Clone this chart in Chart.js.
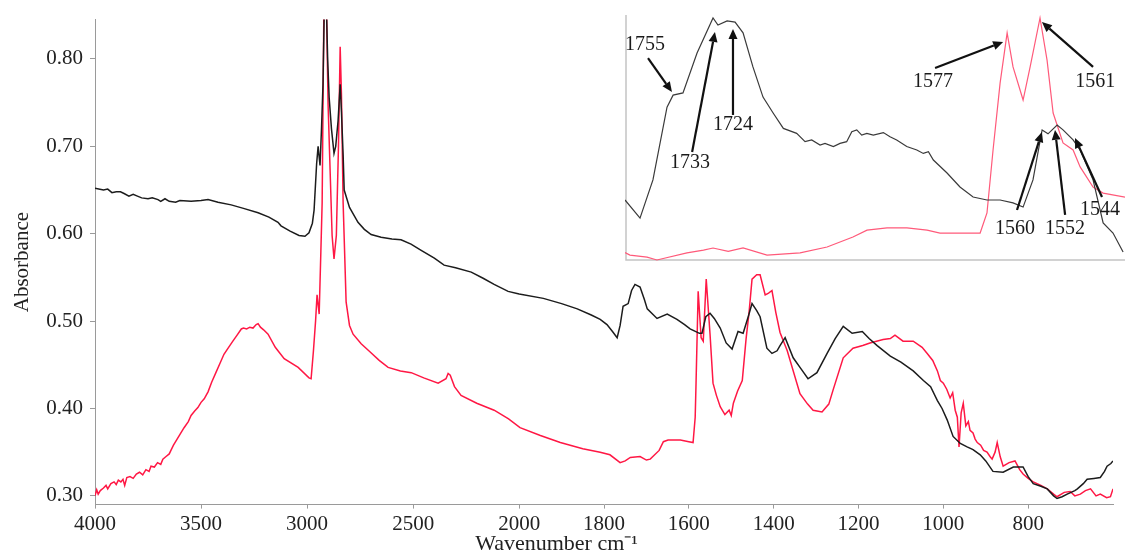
<!DOCTYPE html>
<html><head><meta charset="utf-8">
<script src="https://cdn.jsdelivr.net/npm/chart.js@4.4.1/dist/chart.umd.min.js"></script>
<style>
html,body{margin:0;padding:0;background:#fff;}
#wrap{position:relative;width:1125px;height:557px;overflow:hidden;}
#main{position:absolute;left:0;top:0;}
#inset{position:absolute;left:625px;top:0;}
</style></head><body>
<div id="wrap"><canvas id="main" width="1125" height="557"></canvas><canvas id="inset" width="500" height="270"></canvas></div>
<script>
// ---------- main spectrum data (wavenumber cm-1, absorbance) ----------
const blackWn = [4000,3960,3940,3920,3900,3880,3863,3840,3820,3800,3780,3750,3730,3703,3690,3670,3650,3620,3600,3547,3500,3467,3420,3358,3300,3231,3180,3137,3123,3080,3038,3010,2991,2975,2967,2955,2948,2939,2932,2925,2918,2910,2903,2896,2885,2873,2865,2854,2844,2838,2830,2825,2800,2760,2730,2698,2651,2600,2557,2510,2462,2400,2354,2300,2226,2170,2118,2052,2000,1943,1900,1863,1830,1809,1793,1780,1769,1762,1755,1743,1735,1727,1715,1705,1698,1675,1651,1628,1610,1597,1575,1569,1560,1550,1540,1526,1512,1498,1484,1472,1460,1451,1440,1432,1416,1404,1392,1385,1373,1354,1335,1319,1298,1274,1255,1236,1215,1191,1175,1156,1125,1100,1071,1047,1030,1014,1003,991,977,960,944,930,913,900,883,859,835,812,800,788,770,755,740,732,720,708,690,684,670,661,645,630,620,614,605,600];
const blackAbs = [0.652,0.650,0.651,0.647,0.648,0.648,0.646,0.643,0.645,0.643,0.641,0.640,0.641,0.639,0.637,0.640,0.637,0.636,0.638,0.637,0.638,0.639,0.636,0.633,0.629,0.624,0.619,0.613,0.609,0.603,0.598,0.597,0.601,0.612,0.627,0.680,0.700,0.678,0.720,0.771,0.870,0.870,0.800,0.756,0.720,0.692,0.700,0.729,0.771,0.740,0.690,0.650,0.630,0.613,0.605,0.599,0.596,0.594,0.593,0.588,0.581,0.572,0.564,0.561,0.556,0.549,0.542,0.534,0.531,0.526,0.520,0.514,0.507,0.502,0.496,0.488,0.481,0.495,0.517,0.520,0.535,0.542,0.539,0.525,0.514,0.503,0.508,0.502,0.496,0.491,0.486,0.486,0.505,0.509,0.503,0.492,0.475,0.468,0.488,0.486,0.505,0.520,0.512,0.505,0.469,0.463,0.466,0.472,0.481,0.458,0.445,0.434,0.441,0.463,0.480,0.494,0.486,0.488,0.480,0.472,0.460,0.453,0.443,0.432,0.425,0.409,0.400,0.387,0.368,0.360,0.356,0.353,0.347,0.340,0.328,0.327,0.333,0.333,0.322,0.314,0.311,0.308,0.300,0.297,0.299,0.302,0.306,0.308,0.314,0.319,0.320,0.321,0.328,0.334,0.337,0.340];

const redWn = [4000,3992,3985,3975,3960,3948,3940,3925,3910,3900,3890,3878,3868,3860,3850,3835,3820,3805,3790,3775,3760,3745,3736,3720,3705,3690,3680,3665,3650,3642,3630,3615,3600,3580,3560,3547,3530,3515,3500,3485,3467,3450,3430,3410,3392,3370,3350,3330,3310,3300,3285,3270,3255,3240,3231,3220,3205,3184,3150,3108,3042,2991,2981,2970,2960,2953,2943,2935,2929,2920,2910,2901,2882,2873,2862,2852,2844,2838,2830,2816,2800,2783,2745,2700,2660,2618,2560,2509,2450,2382,2345,2335,2325,2305,2274,2200,2118,2050,1998,1950,1903,1850,1809,1786,1762,1750,1738,1715,1700,1691,1670,1660,1649,1620,1600,1590,1585,1583,1578,1571,1566,1559,1550,1543,1535,1526,1515,1505,1500,1495,1485,1474,1465,1458,1451,1440,1432,1420,1412,1404,1395,1385,1368,1338,1320,1307,1286,1270,1260,1236,1213,1190,1173,1142,1125,1114,1095,1071,1050,1038,1025,1014,1007,1000,992,984,978,972,967,963,958,953,947,941,937,930,925,920,912,905,897,890,885,878,873,866,859,845,831,820,812,800,788,770,755,740,732,715,701,690,677,665,653,640,630,615,606,600];
const redAbs = [0.300,0.307,0.302,0.306,0.309,0.312,0.308,0.314,0.316,0.313,0.318,0.316,0.319,0.312,0.321,0.322,0.320,0.325,0.327,0.324,0.330,0.328,0.334,0.333,0.338,0.336,0.342,0.345,0.348,0.352,0.358,0.364,0.370,0.378,0.385,0.392,0.397,0.401,0.407,0.411,0.419,0.430,0.441,0.452,0.462,0.470,0.477,0.484,0.491,0.492,0.491,0.493,0.492,0.496,0.497,0.493,0.490,0.485,0.470,0.457,0.447,0.435,0.434,0.466,0.500,0.530,0.508,0.580,0.635,0.880,0.880,0.748,0.598,0.571,0.598,0.700,0.814,0.760,0.635,0.522,0.495,0.485,0.474,0.464,0.455,0.447,0.443,0.441,0.435,0.429,0.434,0.440,0.438,0.425,0.415,0.406,0.398,0.388,0.378,0.369,0.361,0.354,0.350,0.347,0.338,0.340,0.344,0.345,0.341,0.342,0.352,0.362,0.364,0.364,0.362,0.361,0.390,0.429,0.534,0.481,0.477,0.548,0.485,0.429,0.415,0.402,0.393,0.398,0.392,0.406,0.420,0.432,0.480,0.510,0.548,0.553,0.553,0.530,0.532,0.535,0.510,0.487,0.466,0.417,0.405,0.398,0.396,0.405,0.421,0.458,0.469,0.472,0.475,0.479,0.480,0.484,0.477,0.477,0.470,0.463,0.455,0.443,0.432,0.429,0.422,0.412,0.418,0.398,0.390,0.356,0.395,0.406,0.380,0.385,0.375,0.372,0.365,0.361,0.358,0.352,0.350,0.345,0.342,0.350,0.361,0.345,0.334,0.338,0.340,0.330,0.325,0.320,0.316,0.312,0.308,0.302,0.299,0.304,0.305,0.300,0.302,0.306,0.308,0.300,0.302,0.298,0.299,0.308];

const xTickValues = [4000,3500,3000,2500,2000,1800,1600,1400,1200,1000,800];
const yTickValues = [0.30,0.40,0.50,0.60,0.70,0.80];

// ---------- inset data (wavenumber, relative intensity %) ----------
const insetBlackWn = [1779.3,1771.4,1764.6,1757.2,1754.0,1748.8,1741.4,1733.0,1730.4,1725.6,1721.4,1717.2,1712.0,1706.7,1701.3,1696.0,1689.0,1684.6,1681.1,1676.7,1674.1,1669.7,1666.2,1662.7,1660.0,1657.4,1654.8,1652.1,1648.7,1643.4,1639.9,1636.4,1631.1,1625.8,1622.4,1619.7,1617.1,1609.9,1603.1,1596.2,1588.9,1582.0,1575.2,1569.9,1564.7,1559.9,1556.8,1552.0,1548.9,1543.6,1539.9,1533.1,1527.8,1522.6,1517.3];
const insetBlackVal = [24.5,17.1,32.7,62.4,67.3,68.2,84.5,98.8,95.9,97.6,97.1,92.7,78.8,66.5,59.9,53.7,51.7,48.3,49.0,46.9,47.6,46.3,47.6,48.3,52.4,53.1,51.0,51.7,51.0,52.0,50.3,49.0,46.3,44.9,43.5,44.2,40.8,35.5,29.8,25.7,24.5,24.5,23.3,21.6,32.7,53.1,51.5,55.1,53.1,49.0,44.9,32.7,15.1,11.0,3.3];
const insetRedWn = [1779.3,1776.7,1767.7,1762.5,1746.7,1738.0,1733.0,1725.0,1717.2,1704.6,1687.2,1673.0,1659.4,1652.0,1641.5,1631.0,1620.4,1613.6,1606.8,1592.5,1588.9,1585.7,1582.0,1578.3,1575.2,1569.9,1566.2,1561.0,1557.3,1554.1,1548.9,1543.6,1539.9,1533.1,1527.8,1516.3];
const insetRedVal = [3.0,2.0,1.2,0.0,2.9,4.0,4.9,3.5,4.9,2.0,2.9,5.3,9.4,12.2,13.1,13.1,12.2,11.0,11.0,11.0,19.2,44.9,72.2,92.7,78.8,65.3,78.8,98.8,81.6,60.0,47.8,44.9,38.0,29.8,27.3,25.7];

// inset peak annotations (tip, tail and label positions in inset data coordinates)
const annoLabels  = ['1755','1733','1724','1577','1561','1560','1552','1544'];
const annoTipWn   = [1754.6,1732.0,1722.5,1580.4,1560.0,1560.0,1553.1,1542.6];
const annoTipVal  = [68.6,93.1,94.3,89.0,97.1,52.2,53.1,49.8];
const annoTailWn  = [1767.2,1744.0,1722.5,1616.2,1533.1,1573.1,1547.8,1528.4];
const annoTailVal = [82.4,44.1,59.2,78.4,78.8,20.4,18.4,25.7];
const annoTextWn  = [1768.8,1745.1,1722.5,1617.3,1532.0,1574.1,1547.8,1529.4];
const annoTextVal = [87.8,39.6,55.1,72.7,72.7,12.7,12.7,20.4];

// piecewise wavenumber axis: 4000-2000 compressed by a factor 2
const tf  = w => (w > 2000 ? 2000 + (w - 2000) / 2 : w);
const inv = t => (t > 2000 ? 2000 + (t - 2000) * 2 : t);

const FONT = "'Liberation Serif','Times New Roman',serif";
const TXT = '#222';
const AXIS = '#9a9a9a';

new Chart(document.getElementById('main'), {
  type: 'line',
  data: {
    datasets: [
      { label: 'Sample A', data: blackWn.map((w, i) => ({ x: tf(w), y: blackAbs[i] })),
        borderColor: '#1c1c1c', borderWidth: 1.5, pointRadius: 0, fill: false, tension: 0 },
      { label: 'Sample B', data: redWn.map((w, i) => ({ x: tf(w), y: redAbs[i] })),
        borderColor: '#ff1744', borderWidth: 1.5, pointRadius: 0, fill: false, tension: 0 }
    ]
  },
  options: {
    responsive: false, animation: false, devicePixelRatio: 1,
    layout: { padding: { top: 15, right: 12, left: 0, bottom: 0 } },
    plugins: {
      legend: { display: false }, tooltip: { enabled: false },
      title: { display: true, position: 'bottom', text: 'Wavenumber cm\u207B\u00B9',
        font: { family: FONT, size: 22, weight: 'normal' }, color: TXT, padding: { top: 0, bottom: 0 } }
    },
    scales: {
      x: {
        type: 'linear', min: tf(600), max: tf(4000), reverse: true,
        afterBuildTicks: s => { s.ticks = xTickValues.map(v => ({ value: tf(v) })); },
        afterFit: s => { s.height = 26; },
        ticks: { callback: v => String(Math.round(inv(v))), font: { family: FONT, size: 21 }, color: TXT,
          padding: 3, maxRotation: 0, autoSkip: false },
        grid: { display: true, drawOnChartArea: false, drawTicks: true, tickLength: 4, color: AXIS },
        border: { color: AXIS, width: 1 }
      },
      y: {
        min: 0.29, max: 0.845,
        afterBuildTicks: s => { s.ticks = yTickValues.map(v => ({ value: v })); },
        afterFit: s => { s.width = 95; },
        ticks: { callback: v => Number(v).toFixed(2), font: { family: FONT, size: 21 }, color: TXT, padding: 7 },
        title: { display: true, text: 'Absorbance', font: { family: FONT, size: 21 }, color: TXT, padding: { top: 10, bottom: 0 } },
        grid: { display: true, drawOnChartArea: false, drawTicks: true, tickLength: 5, color: AXIS },
        border: { color: AXIS, width: 1 }
      }
    }
  }
});

const insetFrame = {
  id: 'insetFrame',
  beforeDatasetsDraw(chart) {
    const a = chart.chartArea, c = chart.ctx;
    c.save();
    c.strokeStyle = '#c4c4c4'; c.lineWidth = 1.5;
    c.beginPath();
    c.moveTo(a.left + 1, a.top); c.lineTo(a.left + 1, a.bottom); c.lineTo(a.right, a.bottom);
    c.stroke();
    c.restore();
  }
};

const insetArrows = {
  id: 'insetArrows',
  afterDatasetsDraw(chart) {
    const xs = chart.scales.x, ys = chart.scales.y, c = chart.ctx;
    c.save();
    c.strokeStyle = '#111'; c.fillStyle = '#111'; c.lineWidth = 2.2;
    c.font = '20px ' + FONT; c.textAlign = 'center'; c.textBaseline = 'middle';
    annoLabels.forEach((lab, i) => {
      const x1 = xs.getPixelForValue(annoTailWn[i]), y1 = ys.getPixelForValue(annoTailVal[i]);
      const x2 = xs.getPixelForValue(annoTipWn[i]), y2 = ys.getPixelForValue(annoTipVal[i]);
      const ang = Math.atan2(y2 - y1, x2 - x1), L = 10, W = 4.5;
      const bx = x2 - L * Math.cos(ang), by = y2 - L * Math.sin(ang);
      c.beginPath(); c.moveTo(x1, y1); c.lineTo(bx, by); c.stroke();
      c.beginPath();
      c.moveTo(x2, y2);
      c.lineTo(bx + W * Math.sin(ang), by - W * Math.cos(ang));
      c.lineTo(bx - W * Math.sin(ang), by + W * Math.cos(ang));
      c.closePath(); c.fill();
      c.fillStyle = '#1a1a1a';
      c.fillText(lab, xs.getPixelForValue(annoTextWn[i]), ys.getPixelForValue(annoTextVal[i]));
      c.fillStyle = '#111';
    });
    c.restore();
  }
};

new Chart(document.getElementById('inset'), {
  type: 'line',
  data: {
    datasets: [
      { label: 'Sample A (inset)', data: insetBlackWn.map((w, i) => ({ x: w, y: insetBlackVal[i] })),
        borderColor: '#3a3a3a', borderWidth: 1.2, pointRadius: 0, fill: false, tension: 0, clip: 4 },
      { label: 'Sample B (inset)', data: insetRedWn.map((w, i) => ({ x: w, y: insetRedVal[i] })),
        borderColor: '#ff5a7a', borderWidth: 1.2, pointRadius: 0, fill: false, tension: 0, clip: 4 }
    ]
  },
  options: {
    responsive: false, animation: false, devicePixelRatio: 1,
    layout: { padding: { top: 15, bottom: 10, left: 0, right: 0 } },
    plugins: { legend: { display: false }, tooltip: { enabled: false } },
    scales: {
      x: { type: 'linear', min: 1516.3, max: 1779.3, reverse: true, display: false },
      y: { min: 0, max: 100, display: false }
    }
  },
  plugins: [insetFrame, insetArrows]
});
</script>
</body></html>
